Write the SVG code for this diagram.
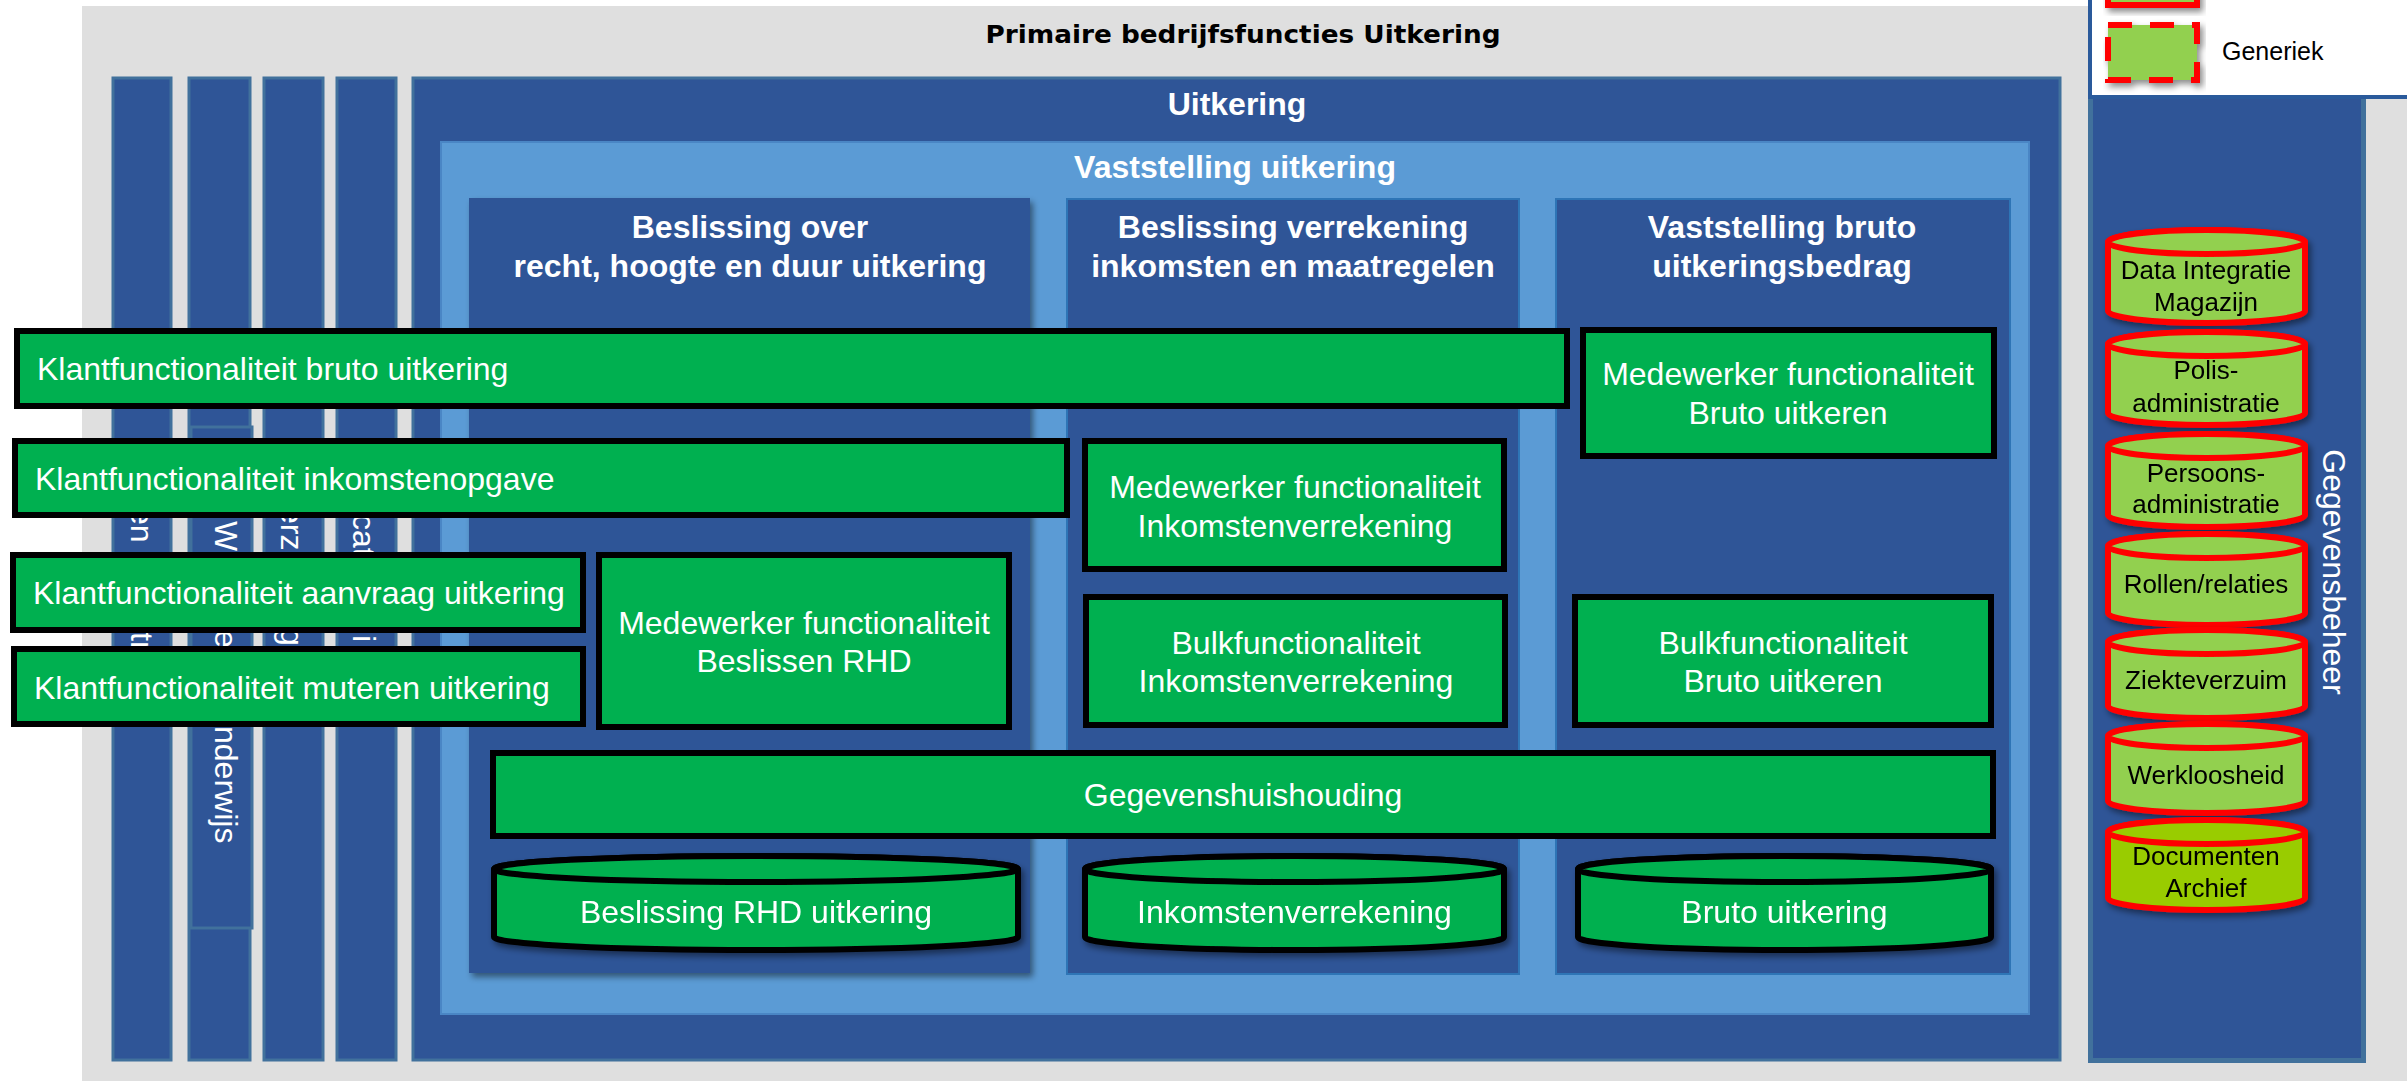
<svg xmlns="http://www.w3.org/2000/svg" width="2407" height="1081" viewBox="0 0 2407 1081">
<defs>
<style>
.strip{fill:#2F5597;stroke:#41719C;stroke-width:3}
.sub{fill:#2F5597}
.subb{fill:#2F5597;stroke:#2E75B6;stroke-width:2}
.gbox{fill:#00B050;stroke:#000;stroke-width:6}
.rcyl{fill:#92D050;stroke:#FF0000;stroke-width:6}
.t{font-family:"Liberation Sans",Arial,sans-serif}
.wt{font-family:"Liberation Sans",Arial,sans-serif;font-size:32px;fill:#fff}
.wb{font-family:"Liberation Sans",Arial,sans-serif;font-size:32px;fill:#fff;font-weight:bold;text-anchor:middle}
.bt{font-family:"Liberation Sans",Arial,sans-serif;font-size:26px;fill:#000;text-anchor:middle}
.mid{text-anchor:middle}
</style>
<filter id="sh" x="-5%" y="-10%" width="115%" height="140%">
<feDropShadow dx="3" dy="4" stdDeviation="3" flood-color="#000" flood-opacity="0.45"/>
</filter>
</defs>

<g id="background">
<rect x="82" y="6" width="2325" height="1075" fill="#DFDFDF"/>
<text x="1243" y="43" font-family="'DejaVu Sans',Verdana,sans-serif" font-weight="bold" font-size="25" text-anchor="middle" textLength="515" lengthAdjust="spacingAndGlyphs" fill="#000">Primaire bedrijfsfuncties Uitkering</text>
</g>

<g id="strips">
<rect class="strip" x="113" y="78" width="58" height="982"/>
<rect class="strip" x="189" y="78" width="61" height="982"/>
<rect class="strip" x="191" y="427" width="61" height="501"/>
<rect class="strip" x="264" y="78" width="59" height="982"/>
<rect class="strip" x="337" y="78" width="59" height="982"/>
<g class="wt">
<text transform="translate(131,507) rotate(90)">en</text>
<text transform="translate(131,632) rotate(90)">tr</text>
<text transform="translate(215,521) rotate(90)">We</text>
<text transform="translate(215,630) rotate(90)">e</text>
<text transform="translate(215,726) rotate(90)">nderwijs</text>
<text transform="translate(281,506) rotate(90)">erz</text>
<text transform="translate(281,628) rotate(90)">g</text>
<text transform="translate(353,514) rotate(90)">cat</text>
<text transform="translate(353,635) rotate(90)">i</text>
</g>
</g>

<g id="uitkering">
<rect x="413" y="78" width="1647" height="982" fill="#2F5597" stroke="#41719C" stroke-width="3"/>
<text class="wb" x="1237" y="115">Uitkering</text>
</g>

<g id="vaststelling-uitkering">
<rect x="441" y="142" width="1588" height="872" fill="#5B9BD5" stroke="#4A86C5" stroke-width="2"/>
<text class="wb" x="1235" y="178">Vaststelling uitkering</text>
</g>

<g id="beslissing-rhd">
<rect class="sub" x="469" y="198" width="561" height="775" filter="url(#sh)"/>
<text class="wb" x="750" y="238">Beslissing over</text>
<text class="wb" x="750" y="277">recht, hoogte en duur uitkering</text>
</g>

<g id="beslissing-verrekening">
<rect class="subb" x="1067" y="199" width="452" height="775"/>
<text class="wb" x="1293" y="238">Beslissing verrekening</text>
<text class="wb" x="1293" y="277">inkomsten en maatregelen</text>
</g>

<g id="vaststelling-bruto">
<rect class="subb" x="1556" y="199" width="454" height="775"/>
<text class="wb" x="1782" y="238">Vaststelling bruto</text>
<text class="wb" x="1782" y="277">uitkeringsbedrag</text>
</g>

<g id="gegevensbeheer">
<rect x="2090.5" y="78" width="273" height="982.5" fill="#2F5597" stroke="#41719C" stroke-width="5"/>
<text class="wt mid" transform="translate(2323,572) rotate(90)">Gegevensbeheer</text>
</g>

<g id="db-data-integratie" filter="url(#sh)">
<path class="rcyl" d="M2108,242 V311 A98.5,12 0 0 0 2305,311 V242 A98.5,12 0 0 0 2108,242 Z"/>
<ellipse class="rcyl" cx="2206.5" cy="242" rx="98.5" ry="12"/>
<text class="bt" x="2206" y="279">Data Integratie</text>
<text class="bt" x="2206" y="311">Magazijn</text>
</g>
<g id="db-polis" filter="url(#sh)">
<path class="rcyl" d="M2108,344 V413 A98.5,12 0 0 0 2305,413 V344 A98.5,12 0 0 0 2108,344 Z"/>
<ellipse class="rcyl" cx="2206.5" cy="344" rx="98.5" ry="12"/>
<text class="bt" x="2206" y="379">Polis-</text>
<text class="bt" x="2206" y="412">administratie</text>
</g>
<g id="db-persoons" filter="url(#sh)">
<path class="rcyl" d="M2108,446 V515 A98.5,12 0 0 0 2305,515 V446 A98.5,12 0 0 0 2108,446 Z"/>
<ellipse class="rcyl" cx="2206.5" cy="446" rx="98.5" ry="12"/>
<text class="bt" x="2206" y="482">Persoons-</text>
<text class="bt" x="2206" y="513">administratie</text>
</g>
<g id="db-rollen" filter="url(#sh)">
<path class="rcyl" d="M2108,546 V613 A98.5,12 0 0 0 2305,613 V546 A98.5,12 0 0 0 2108,546 Z"/>
<ellipse class="rcyl" cx="2206.5" cy="546" rx="98.5" ry="12"/>
<text class="bt" x="2206" y="593">Rollen/relaties</text>
</g>
<g id="db-ziekteverzuim" filter="url(#sh)">
<path class="rcyl" d="M2108,642 V706 A98.5,12 0 0 0 2305,706 V642 A98.5,12 0 0 0 2108,642 Z"/>
<ellipse class="rcyl" cx="2206.5" cy="642" rx="98.5" ry="12"/>
<text class="bt" x="2206" y="689">Ziekteverzuim</text>
</g>
<g id="db-werkloosheid" filter="url(#sh)">
<path class="rcyl" d="M2108,736 V801 A98.5,12 0 0 0 2305,801 V736 A98.5,12 0 0 0 2108,736 Z"/>
<ellipse class="rcyl" cx="2206.5" cy="736" rx="98.5" ry="12"/>
<text class="bt" x="2206" y="784">Werkloosheid</text>
</g>
<g id="db-documenten" filter="url(#sh)">
<path class="rcyl" style="fill:#99CC00" d="M2108,832 V898 A98.5,12 0 0 0 2305,898 V832 A98.5,12 0 0 0 2108,832 Z"/>
<ellipse class="rcyl" style="fill:#99CC00" cx="2206.5" cy="832" rx="98.5" ry="12"/>
<text class="bt" x="2206" y="865">Documenten</text>
<text class="bt" x="2206" y="897">Archief</text>
</g>

<g id="legend">
<rect x="2090" y="-10" width="330" height="107" fill="#fff" stroke="#2A5A9B" stroke-width="4"/>
<rect x="2108" y="-30" width="89" height="35" fill="#92D050" stroke="#FF0000" stroke-width="6" filter="url(#sh)"/>
<rect x="2108" y="25" width="89" height="55" fill="#92D050" stroke="#FF0000" stroke-width="6" stroke-dasharray="24 18" filter="url(#sh)"/>
<text class="t" x="2222" y="60" font-size="25" fill="#000">Generiek</text>
</g>

<g id="klant-bruto">
<rect class="gbox" x="17" y="331" width="1550" height="75"/>
<text class="wt" x="37" y="380">Klantfunctionaliteit bruto uitkering</text>
</g>
<g id="klant-inkomstenopgave">
<rect class="gbox" x="15" y="441" width="1052" height="74"/>
<text class="wt" x="35" y="490">Klantfunctionaliteit inkomstenopgave</text>
</g>
<g id="klant-aanvraag">
<rect class="gbox" x="13" y="555" width="570" height="75"/>
<text class="wt" x="33" y="604">Klantfunctionaliteit aanvraag uitkering</text>
</g>
<g id="klant-muteren">
<rect class="gbox" x="14" y="649" width="569" height="75"/>
<text class="wt" x="34" y="699">Klantfunctionaliteit muteren uitkering</text>
</g>
<g id="mw-beslissen-rhd">
<rect class="gbox" x="599" y="555" width="410" height="172"/>
<text class="wt mid" x="804" y="634">Medewerker functionaliteit</text>
<text class="wt mid" x="804" y="672">Beslissen RHD</text>
</g>
<g id="mw-inkomstenverrekening">
<rect class="gbox" x="1085" y="441" width="419" height="128"/>
<text class="wt mid" x="1295" y="498">Medewerker functionaliteit</text>
<text class="wt mid" x="1295" y="537">Inkomstenverrekening</text>
</g>
<g id="bulk-inkomstenverrekening">
<rect class="gbox" x="1086" y="597" width="419" height="128"/>
<text class="wt mid" x="1296" y="654">Bulkfunctionaliteit</text>
<text class="wt mid" x="1296" y="692">Inkomstenverrekening</text>
</g>
<g id="mw-bruto-uitkeren">
<rect class="gbox" x="1583" y="330" width="411" height="126"/>
<text class="wt mid" x="1788" y="385">Medewerker functionaliteit</text>
<text class="wt mid" x="1788" y="424">Bruto uitkeren</text>
</g>
<g id="bulk-bruto-uitkeren">
<rect class="gbox" x="1575" y="597" width="416" height="128"/>
<text class="wt mid" x="1783" y="654">Bulkfunctionaliteit</text>
<text class="wt mid" x="1783" y="692">Bruto uitkeren</text>
</g>
<g id="gegevenshuishouding">
<rect class="gbox" x="493" y="753" width="1500" height="83"/>
<text class="wt mid" x="1243" y="806">Gegevenshuishouding</text>
</g>

<g id="db-beslissing-rhd" filter="url(#sh)">
<path class="gbox" d="M494,869 V937 A262,13 0 0 0 1018,937 V869 A262,13 0 0 0 494,869 Z"/>
<ellipse class="gbox" cx="756" cy="869" rx="262" ry="13"/>
<text class="wt mid" x="756" y="923">Beslissing RHD uitkering</text>
</g>
<g id="db-inkomstenverrekening" filter="url(#sh)">
<path class="gbox" d="M1085,869 V937 A209.5,13 0 0 0 1504,937 V869 A209.5,13 0 0 0 1085,869 Z"/>
<ellipse class="gbox" cx="1294.5" cy="869" rx="209.5" ry="13"/>
<text class="wt mid" x="1294.5" y="923">Inkomstenverrekening</text>
</g>
<g id="db-bruto-uitkering" filter="url(#sh)">
<path class="gbox" d="M1578,869 V937 A206.5,13 0 0 0 1991,937 V869 A206.5,13 0 0 0 1578,869 Z"/>
<ellipse class="gbox" cx="1784.5" cy="869" rx="206.5" ry="13"/>
<text class="wt mid" x="1784.5" y="923">Bruto uitkering</text>
</g>

<g id="connectors"/>
</svg>
